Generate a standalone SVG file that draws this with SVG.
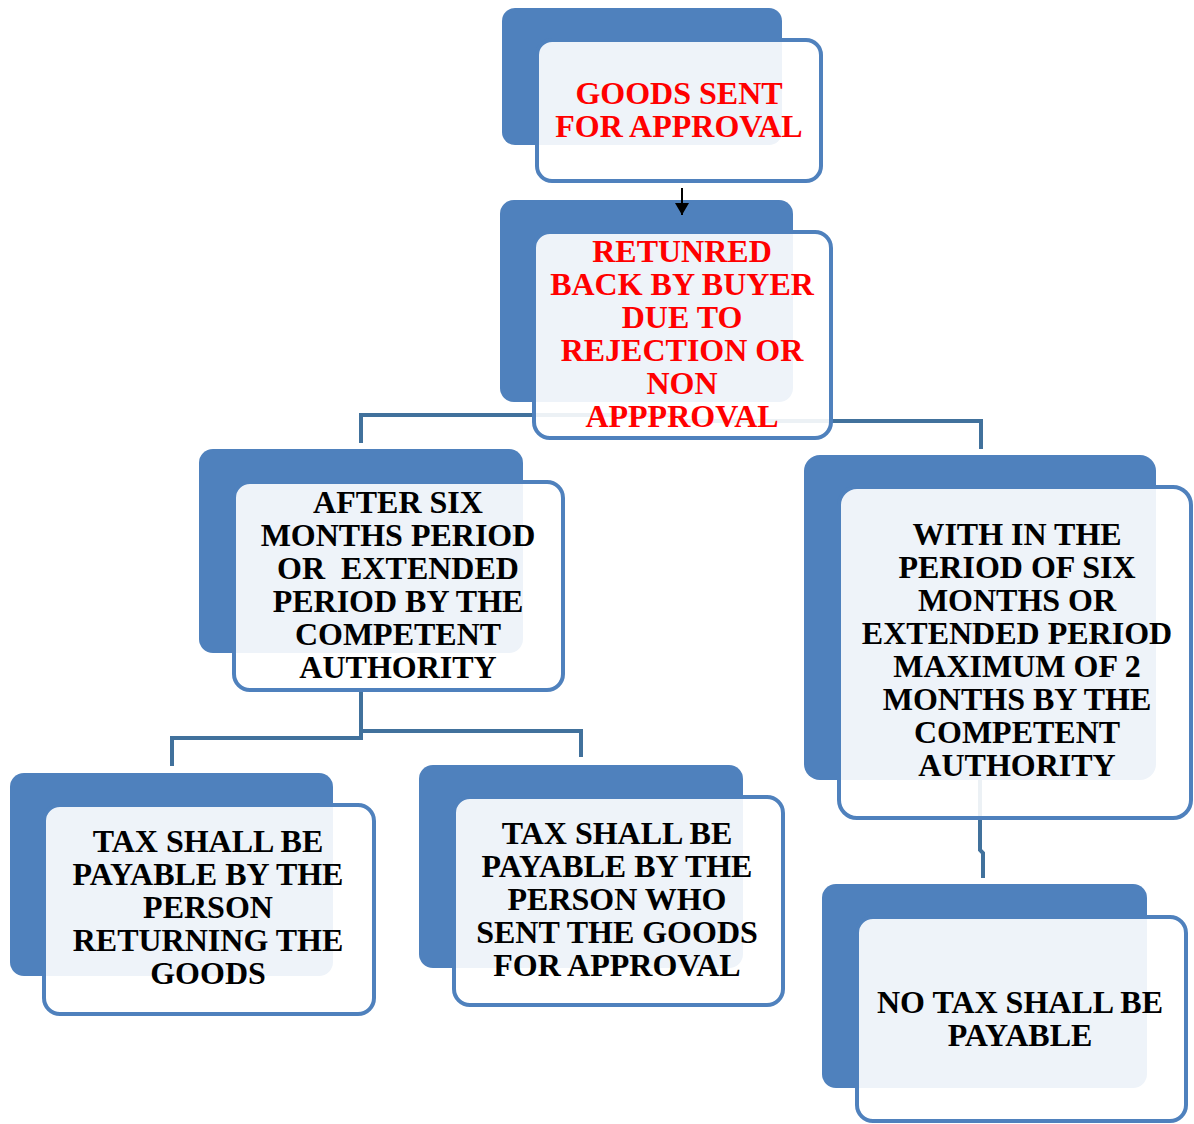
<svg xmlns="http://www.w3.org/2000/svg" width="1194" height="1124" viewBox="0 0 1194 1124">
<style>
.back{fill:#4F81BD;}
.front{fill:#FFFFFF;fill-opacity:0.9;stroke:#4F81BD;stroke-width:4;}
.conn{fill:none;stroke:#41719C;stroke-width:4;}
.t{font-family:"Liberation Serif","Times New Roman",serif;font-weight:bold;font-size:32px;text-anchor:middle;white-space:pre;}
.red{fill:#FF0000;}
.blk{fill:#000000;}
</style>
<defs>
<marker id="ah" markerWidth="12" markerHeight="14" refX="12" refY="7" orient="auto" markerUnits="userSpaceOnUse" viewBox="0 0 12 14">
<path d="M0,0 L12,7 L0,14 Z" fill="#000"/>
</marker>
</defs>
<rect width="1194" height="1124" fill="#FFFFFF"/>
<g id="connectors">
<path class="conn" d="M682 415 H361 V443"/>
<path class="conn" d="M682 421 H981 V449"/>
<path class="conn" d="M361 690 V738 H172 V766"/>
<path class="conn" d="M361 731 H581 V757"/>
<path class="conn" d="M980 780 V850 L983 853 V878"/>
</g>
<g id="node1">
<rect class="back" x="502" y="8" width="280" height="137" rx="13"/>
<rect class="front" x="537" y="40" width="284" height="141" rx="15"/>
<text class="t red" x="679" y="104">GOODS SENT</text>
<text class="t red" x="679" y="137">FOR APPROVAL</text>
</g>
<g id="node2">
<rect class="back" x="500" y="200" width="293" height="202" rx="14"/>
<rect class="front" x="534" y="232" width="297" height="206" rx="16"/>
<text class="t red" x="682" y="262">RETUNRED</text>
<text class="t red" x="682" y="295">BACK BY BUYER</text>
<text class="t red" x="682" y="328">DUE TO</text>
<text class="t red" x="682" y="361">REJECTION OR</text>
<text class="t red" x="682" y="394">NON</text>
<text class="t red" x="682" y="427">APPPROVAL</text>
</g>
<g id="node3">
<rect class="back" x="199" y="449" width="324" height="204" rx="14"/>
<rect class="front" x="234" y="482" width="329" height="208" rx="16"/>
<text class="t blk" x="398" y="513">AFTER SIX</text>
<text class="t blk" x="398" y="546">MONTHS PERIOD</text>
<text class="t blk" x="398" y="579">OR  EXTENDED</text>
<text class="t blk" x="398" y="612">PERIOD BY THE</text>
<text class="t blk" x="398" y="645">COMPETENT</text>
<text class="t blk" x="398" y="678">AUTHORITY</text>
</g>
<g id="node4">
<rect class="back" x="804" y="455" width="352" height="325" rx="16"/>
<rect class="front" x="839" y="487" width="352" height="331" rx="18"/>
<text class="t blk" x="1017" y="545">WITH IN THE</text>
<text class="t blk" x="1017" y="578">PERIOD OF SIX</text>
<text class="t blk" x="1017" y="611">MONTHS OR</text>
<text class="t blk" x="1017" y="644">EXTENDED PERIOD</text>
<text class="t blk" x="1017" y="677">MAXIMUM OF 2</text>
<text class="t blk" x="1017" y="710">MONTHS BY THE</text>
<text class="t blk" x="1017" y="743">COMPETENT</text>
<text class="t blk" x="1017" y="776">AUTHORITY</text>
</g>
<g id="node5">
<rect class="back" x="10" y="773" width="323" height="203" rx="14"/>
<rect class="front" x="44" y="805" width="330" height="209" rx="16"/>
<text class="t blk" x="208" y="852">TAX SHALL BE</text>
<text class="t blk" x="208" y="885">PAYABLE BY THE</text>
<text class="t blk" x="208" y="918">PERSON</text>
<text class="t blk" x="208" y="951">RETURNING THE</text>
<text class="t blk" x="208" y="984">GOODS</text>
</g>
<g id="node6">
<rect class="back" x="419" y="765" width="324" height="203" rx="14"/>
<rect class="front" x="454" y="797" width="329" height="208" rx="16"/>
<text class="t blk" x="617" y="844">TAX SHALL BE</text>
<text class="t blk" x="617" y="877">PAYABLE BY THE</text>
<text class="t blk" x="617" y="910">PERSON WHO</text>
<text class="t blk" x="617" y="943">SENT THE GOODS</text>
<text class="t blk" x="617" y="976">FOR APPROVAL</text>
</g>
<g id="node7">
<rect class="back" x="822" y="884" width="325" height="204" rx="14"/>
<rect class="front" x="857" y="917" width="329" height="204" rx="16"/>
<text class="t blk" x="1020" y="1013">NO TAX SHALL BE</text>
<text class="t blk" x="1020" y="1046">PAYABLE</text>
</g>
<g id="arrow-connector">
<line x1="682" y1="188" x2="682" y2="215" stroke="#000" stroke-width="2" marker-end="url(#ah)"/>
</g>
</svg>
